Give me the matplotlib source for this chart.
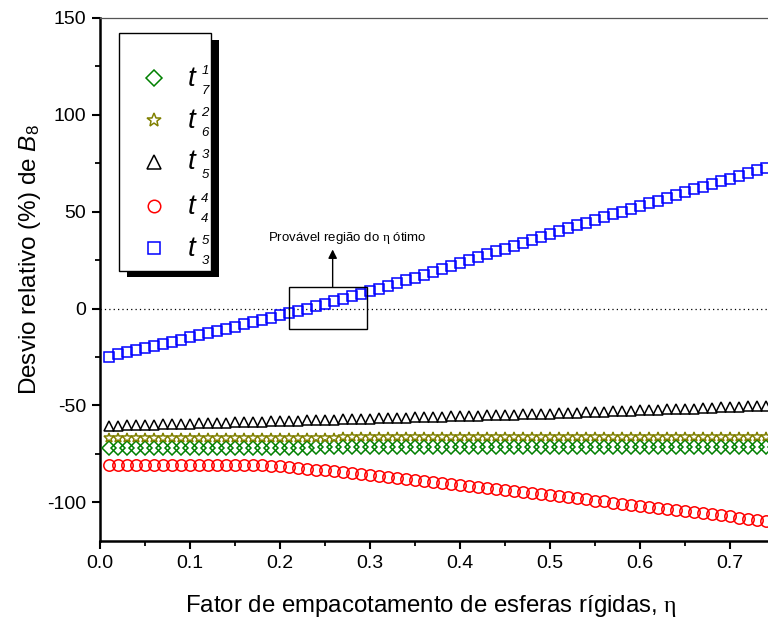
import matplotlib
matplotlib.use("Agg")
import matplotlib.pyplot as plt
from matplotlib.lines import Line2D
from matplotlib.patches import Rectangle
from matplotlib.ticker import FixedLocator, MultipleLocator, FormatStrFormatter

plt.rcParams["font.family"] = ["Liberation Sans", "DejaVu Sans"]
plt.rcParams["mathtext.fontset"] = "custom"
plt.rcParams["mathtext.rm"] = "Liberation Serif"
plt.rcParams["mathtext.it"] = "Liberation Sans:italic"
plt.rcParams["mathtext.sf"] = "Liberation Sans"
plt.rcParams["axes.unicode_minus"] = False

# packing fraction
eta = [0.01, 0.02, 0.03, 0.04, 0.05, 0.06, 0.07, 0.08, 0.09, 0.10,
       0.11, 0.12, 0.13, 0.14, 0.15, 0.16, 0.17, 0.18, 0.19, 0.20,
       0.21, 0.22, 0.23, 0.24, 0.25, 0.26, 0.27, 0.28, 0.29, 0.30,
       0.31, 0.32, 0.33, 0.34, 0.35, 0.36, 0.37, 0.38, 0.39, 0.40,
       0.41, 0.42, 0.43, 0.44, 0.45, 0.46, 0.47, 0.48, 0.49, 0.50,
       0.51, 0.52, 0.53, 0.54, 0.55, 0.56, 0.57, 0.58, 0.59, 0.60,
       0.61, 0.62, 0.63, 0.64, 0.65, 0.66, 0.67, 0.68, 0.69, 0.70,
       0.71, 0.72, 0.73, 0.74, 0.75]

# relative deviation (%) of B8 for each approximant t^i_j
t17 = [-71.9, -71.9, -71.9, -71.9, -71.9, -71.9, -71.9, -71.9, -71.9, -71.9,
       -71.8, -71.8, -71.8, -71.8, -71.8, -71.8, -71.8, -71.8, -71.8, -71.8,
       -71.8, -71.8, -71.8, -71.7, -71.7, -71.7, -71.7, -71.7, -71.7, -71.7,
       -71.7, -71.7, -71.7, -71.7, -71.7, -71.6, -71.6, -71.6, -71.6, -71.6,
       -71.6, -71.6, -71.6, -71.6, -71.6, -71.6, -71.6, -71.5, -71.5, -71.5,
       -71.5, -71.5, -71.5, -71.5, -71.5, -71.5, -71.5, -71.5, -71.5, -71.5,
       -71.5, -71.4, -71.4, -71.4, -71.4, -71.4, -71.4, -71.4, -71.4, -71.4,
       -71.4, -71.4, -71.4, -71.4, -71.4]

t26 = [-66.8, -66.8, -66.8, -66.8, -66.8, -66.8, -66.8, -66.7, -66.7, -66.7,
       -66.7, -66.7, -66.7, -66.7, -66.7, -66.7, -66.7, -66.6, -66.6, -66.6,
       -66.6, -66.6, -66.6, -66.6, -66.6, -66.6, -66.5, -66.5, -66.5, -66.5,
       -66.5, -66.5, -66.5, -66.5, -66.5, -66.4, -66.4, -66.4, -66.4, -66.4,
       -66.4, -66.4, -66.4, -66.4, -66.3, -66.3, -66.3, -66.3, -66.3, -66.3,
       -66.3, -66.3, -66.3, -66.2, -66.2, -66.2, -66.2, -66.2, -66.2, -66.2,
       -66.2, -66.2, -66.2, -66.1, -66.1, -66.1, -66.1, -66.1, -66.1, -66.1,
       -66.1, -66.1, -66.1, -66.1, -66.1]

t35 = [-60.5, -60.4, -60.2, -60.1, -60.0, -59.9, -59.7, -59.6, -59.5, -59.4,
       -59.2, -59.1, -59.0, -58.9, -58.7, -58.6, -58.5, -58.4, -58.2, -58.1,
       -58.0, -57.9, -57.7, -57.6, -57.5, -57.4, -57.2, -57.1, -57.0, -56.9,
       -56.7, -56.6, -56.5, -56.4, -56.2, -56.1, -56.0, -55.9, -55.7, -55.6,
       -55.5, -55.4, -55.2, -55.1, -54.9, -54.8, -54.6, -54.5, -54.3, -54.2,
       -54.1, -53.9, -53.8, -53.6, -53.5, -53.3, -53.1, -53.0, -52.8, -52.6,
       -52.4, -52.3, -52.1, -51.9, -51.7, -51.6, -51.4, -51.2, -51.0, -50.9,
       -50.7, -50.5, -50.3, -50.2, -50.0]

t44 = [-80.8, -80.8, -80.9, -80.9, -80.9, -80.9, -81.0, -81.0, -81.0, -81.0,
       -81.0, -81.0, -81.0, -81.0, -81.0, -81.0, -81.0, -81.0, -81.1, -81.3,
       -81.7, -82.1, -82.6, -83.1, -83.6, -84.1, -84.6, -85.1, -85.6, -86.1,
       -86.6, -87.1, -87.6, -88.1, -88.6, -89.1, -89.6, -90.1, -90.6, -91.1,
       -91.6, -92.1, -92.6, -93.1, -93.6, -94.1, -94.7, -95.2, -95.8, -96.3,
       -96.9, -97.4, -98.0, -98.5, -99.1, -99.6, -100.2, -100.7, -101.3, -101.8,
       -102.4, -102.9, -103.5, -104.0, -104.6, -105.1, -105.7, -106.2, -106.8, -107.3,
       -107.9, -108.4, -109.0, -109.5, -110.1]

t53 = [-24.8, -23.7, -22.6, -21.5, -20.4, -19.3, -18.2, -17.1, -16.0, -14.9,
       -13.8, -12.7, -11.6, -10.5, -9.3, -8.2, -7.0, -5.9, -4.7, -3.5,
       -2.4, -1.2, 0.0, 1.2, 2.5, 3.7, 5.0, 6.3, 7.6, 8.9,
       10.3, 11.7, 13.1, 14.6, 16.0, 17.5, 19.0, 20.5, 22.0, 23.5,
       25.0, 26.5, 28.0, 29.5, 31.0, 32.5, 34.0, 35.5, 37.0, 38.5,
       40.0, 41.4, 42.9, 44.3, 45.7, 47.2, 48.6, 50.0, 51.5, 52.9,
       54.3, 55.7, 57.2, 58.6, 60.0, 61.5, 62.9, 64.3, 65.7, 67.1,
       68.5, 69.9, 71.3, 72.7, 74.1]

x_ticks = [0.0, 0.1, 0.2, 0.3, 0.4, 0.5, 0.6, 0.7]
sup_labels = ["1", "2", "3", "4", "5"]
sub_labels = ["7", "6", "5", "4", "3"]

W, H = 768, 623
fig = plt.figure(figsize=(W / 100, H / 100), dpi=100)
ax = fig.add_axes([100 / W, 1 - 541 / H, 720 / W, (541 - 18) / H])


def fx(x):
    return x / W


def fy(y):
    return 1 - y / H


styles = [
    (t17, "D", "#008000", 6.8),
    (t26, "*", "#808000", 7.5),
    (t35, "^", "black", 7.6),
    (t44, "o", "#ff0000", 8.2),
    (t53, "s", "#0000ff", 7.2),
]

ax.axhline(0, color="black", lw=0.9, ls=(0, (1, 2.5)), zorder=1)

for vals, mk, col, ms in styles:
    ax.plot(eta, vals, ls="none", marker=mk, ms=ms, mfc="none", mec=col,
            mew=1.1, zorder=3)

ax.set_xlim(0, 0.8)
ax.set_ylim(-120, 150)
ax.xaxis.set_major_locator(FixedLocator(x_ticks))
ax.xaxis.set_minor_locator(FixedLocator([0.05, 0.15, 0.25, 0.35, 0.45,
                                         0.55, 0.65, 0.75]))
ax.xaxis.set_major_formatter(FormatStrFormatter("%.1f"))
ax.yaxis.set_major_locator(MultipleLocator(50))
ax.yaxis.set_minor_locator(MultipleLocator(25))
ax.tick_params(which="major", direction="out", length=6, width=1.5,
               labelsize=14, pad=4, top=False, right=False)
ax.tick_params(which="minor", direction="out", length=3.5, width=1.3,
               top=False, right=False)
ax.spines["right"].set_visible(False)
ax.spines["left"].set_linewidth(1.8)
ax.spines["bottom"].set_linewidth(1.8)
ax.spines["top"].set_linewidth(0.9)
ax.spines["top"].set_color("#555555")

# region of optimal eta
ax.add_patch(Rectangle((0.21, -10.3), 0.087, 21.6, fill=False,
                       ec="black", lw=1.0, zorder=4))
ax.annotate("", xy=(0.2585, 30.5), xytext=(0.2585, 11.3),
            arrowprops=dict(arrowstyle="-|>", color="black", lw=1.0,
                            mutation_scale=13, shrinkA=0, shrinkB=0),
            zorder=4)
ax.text(0.275, 36.5, r"Provável região do $\mathrm{\eta}$ ótimo",
        fontsize=9.5, ha="center", va="center")

# axis titles
fig.text(fx(431), fy(606), r"Fator de empacotamento de esferas rígidas, $\mathrm{\eta}$",
         fontsize=17.3, ha="center", va="center")
fig.text(fx(30), fy(260), r"Desvio relativo (%) de $\mathit{B}_{\mathsf{8}}$",
         fontsize=17.5, ha="center", va="center", rotation=90)

# legend box with drop shadow
fig.add_artist(Rectangle((fx(127), fy(277)), (219 - 127) / W, (277 - 40) / H,
                         transform=fig.transFigure, fc="black", ec="none"))
fig.add_artist(Rectangle((fx(119), fy(271)), (211 - 119) / W, (271 - 33) / H,
                         transform=fig.transFigure, fc="white", ec="black",
                         lw=1.0))
legend_y = [78, 120, 162, 206, 248]
legend_ms = [8.3, 10.5, 10.5, 9.0, 8.0]
for (vals, mk, col, ms), yc, lms, sp, sb in zip(styles, legend_y, legend_ms,
                                               sup_labels, sub_labels):
    fig.add_artist(Line2D([fx(154)], [fy(yc)], marker=mk, ms=lms, mfc="none",
                          mec=col, mew=1.1, transform=fig.transFigure))
    fig.text(fx(192), fy(yc + 7.5), "t", fontsize=20, style="italic",
             ha="center", va="baseline")
    fig.text(fx(205), fy(yc - 4), sp, fontsize=9.5, style="italic",
             ha="center", va="baseline")
    fig.text(fx(205), fy(yc + 16), sb, fontsize=9.5, style="italic",
             ha="center", va="baseline")

fig.savefig("out.png", dpi=100)
